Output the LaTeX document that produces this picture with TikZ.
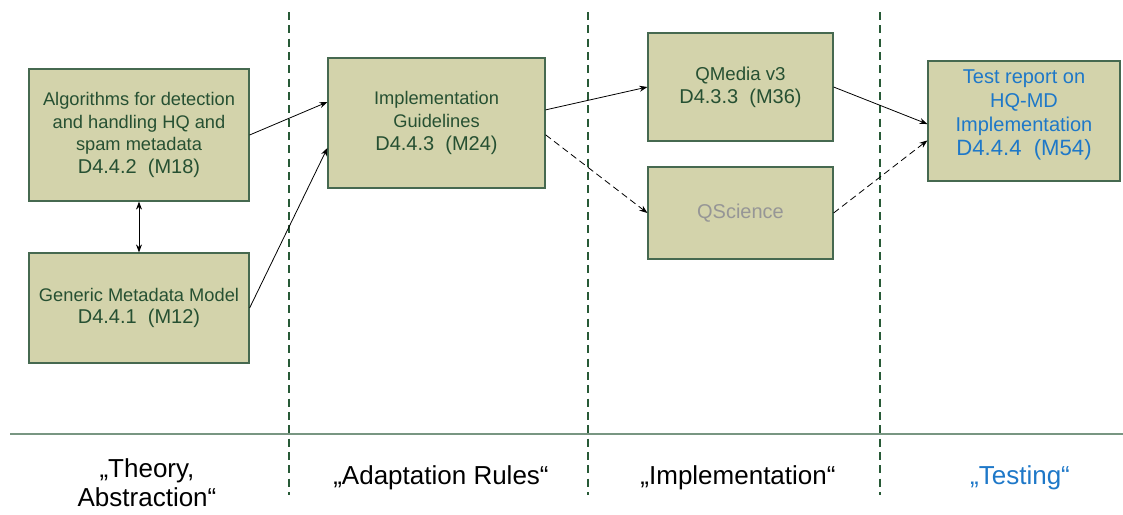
\documentclass[tikz,border=0pt]{standalone}
\usepackage{fontspec}
\setmainfont{Liberation Sans}
\usetikzlibrary{arrows.meta,calc}
\definecolor{boxfill}{RGB}{211,211,171}
\definecolor{boxborder}{RGB}{70,105,80}
\definecolor{boxtext}{RGB}{38,80,50}
\definecolor{sepgreen}{RGB}{40,90,55}
\definecolor{hline}{RGB}{120,150,130}
\definecolor{testblue}{RGB}{30,120,200}
\definecolor{qgrey}{RGB}{150,150,150}
\newcommand{\dnum}[1]{{\fontsize{15}{17}\selectfont #1}}
\tikzset{
  box/.style={draw=boxborder, fill=boxfill, line width=0.9pt, align=center,
    inner sep=0pt, text=boxtext, font=\fontsize{13.7}{17}\selectfont},
  conn/.style={draw=black, line width=0.6pt, -{Stealth[length=6pt,width=4.5pt]}},
  dconn/.style={conn, dash pattern=on 5pt off 3pt},
  sep/.style={draw=sepgreen, line width=0.9pt, dash pattern=on 6pt off 4pt},
  lbl/.style={font=\fontsize{19.5}{22}\selectfont, align=center, text=black}
}
\begin{document}
\begin{tikzpicture}[x=0.75pt,y=-0.75pt]
\useasboundingbox (0,0) rectangle (1123,514);
% separators
\draw[sep] (289,12) coordinate (s1a) -- (289,495) coordinate (s1b);
\draw[sep] (588,12) coordinate (s2a) -- (588,495) coordinate (s2b);
\draw[sep] (880,12) coordinate (s3a) -- (880,495) coordinate (s3b);
\draw[draw=hline, line width=1.5pt] (10,434) coordinate (h1) -- (1123,434) coordinate (h2);
% boxes
\node[box, minimum width=220*0.75pt, minimum height=132*0.75pt] (A) at (139,135)
  {Algorithms for detection\\and handling HQ and\\spam metadata\\\dnum{D4.4.2\ \ (M18)}};
\node[box, minimum width=220*0.75pt, minimum height=110*0.75pt] (G) at (139,308)
  {Generic Metadata Model\\\dnum{D4.4.1\ \ (M12)}};
\node[box, minimum width=217*0.75pt, minimum height=130*0.75pt] (I) at (436.5,123)
  {Implementation\\Guidelines\\\dnum{D4.4.3\ \ (M24)}};
\node[box, minimum width=185*0.75pt, minimum height=108*0.75pt, font=\fontsize{14}{17}\selectfont] (Q) at (740.5,87)
  {QMedia v3\\\dnum{D4.3.3\ \ (M36)}};
\node[box, minimum width=185*0.75pt, minimum height=92*0.75pt, text=qgrey, font=\fontsize{15}{17}\selectfont] (S) at (740.5,213)
  {QScience};
\node[box, minimum width=192*0.75pt, minimum height=120*0.75pt, text=testblue, font=\fontsize{15}{18}\selectfont] (T) at (1024,121)
  {Test report on\\HQ-MD\\Implementation\\{\fontsize{16.6}{19}\selectfont D4.4.4\ \ (M54)}\\[-6pt]};
% connectors
\draw[conn] (A.east) -- ($(I.north west)!0.34!(I.south west)$);
\draw[conn] (G.east) -- ($(I.north west)!0.69!(I.south west)$);
\draw[conn] ($(I.north east)!0.4!(I.south east)$) -- (Q.west);
\draw[dconn] ($(I.north east)!0.59!(I.south east)$) -- (S.west);
\draw[conn] (Q.east) -- ($(T.north west)!0.525!(T.south west)$);
\draw[dconn] (S.east) -- ($(T.north west)!0.66!(T.south west)$);
\draw[draw=black, line width=0.6pt, {Stealth[length=6pt,width=4.5pt]}-{Stealth[length=6pt,width=4.5pt]}] (A.south) -- (G.north);
% phase labels
\node[lbl] (l1) at (147,483) {„Theory,\\Abstraction“};
\node[lbl] (l2) at (441,478) {„Adaptation Rules“};
\node[lbl] (l3) at (738,478) {„Implementation“};
\node[lbl, text=testblue] (l4) at (1020,478) {„Testing“};
\end{tikzpicture}
\end{document}
